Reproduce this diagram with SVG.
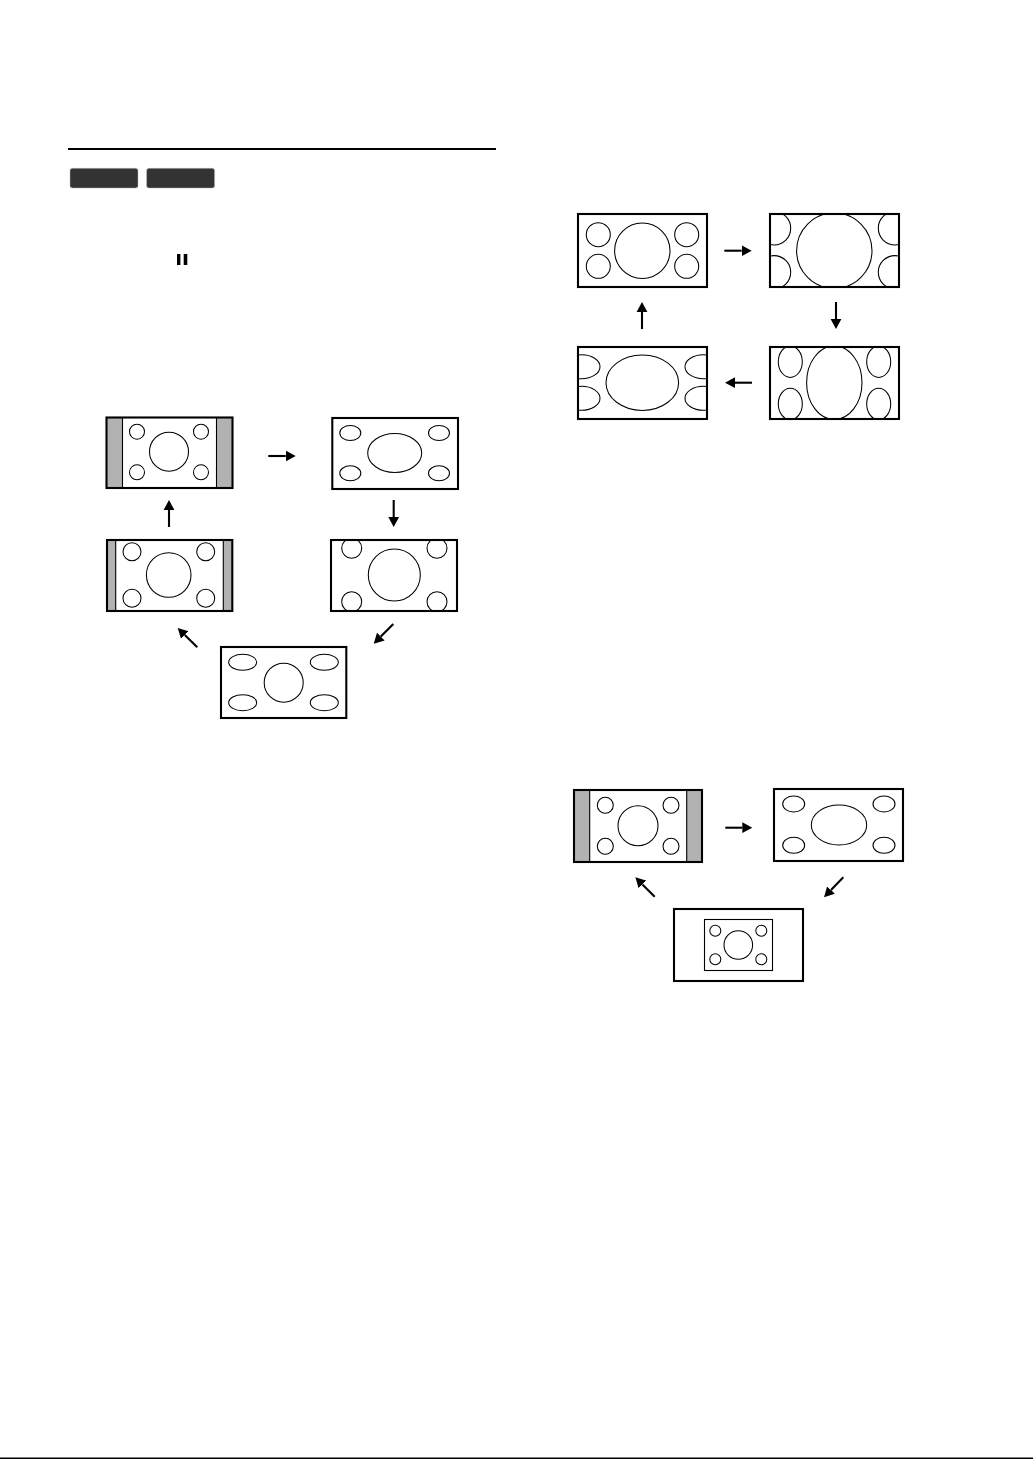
<svg xmlns="http://www.w3.org/2000/svg" width="1033" height="1459" viewBox="0 0 1033 1459">
<style>
.frame{fill:none;stroke:#000;stroke-width:2.1}
.bar{fill:#b2b2b2;stroke:none}
.rule{stroke:#000;stroke-width:1.1}
.s{fill:none;stroke:#000;stroke-width:1.05}
.btn{fill:#333;stroke:#bbb;stroke-width:.5}
.arr{fill:none;stroke:#000;stroke-width:2.1;marker-end:url(#head)}
</style>
<defs>
<marker id="head" markerUnits="userSpaceOnUse" markerWidth="12" markerHeight="12" refX="0" refY="6" orient="auto" viewBox="0 0 12 12"><path d="M0 .6L10 6L0 11.4Z" fill="#000"/></marker>
<clipPath id="cG"><rect x="770" y="214" width="129" height="73"/></clipPath>
<clipPath id="cH"><rect x="770" y="347" width="129" height="72"/></clipPath>
<clipPath id="cI"><rect x="578" y="347" width="129" height="72"/></clipPath>
<clipPath id="cD"><rect x="331" y="540" width="126" height="71"/></clipPath>
</defs>
<rect width="1033" height="1459" fill="#fff"/>
<g id="header">
<rect x="68" y="148" width="428" height="2" fill="#000"/>
<rect class="btn" x="70" y="168.3" width="68" height="19.8" rx="2.5"/>
<rect class="btn" x="146.6" y="168.3" width="68" height="19.8" rx="2.5"/>
<rect x="177" y="254" width="3.4" height="11" fill="#000"/>
<rect x="183.7" y="254" width="3.6" height="11" fill="#000"/>
</g>
<g id="screen-a">
<rect class="bar" x="106.5" y="417.5" width="16" height="70"/><rect class="bar" x="216.5" y="417.5" width="16" height="70"/>
<path class="rule" d="M122.5 417.5V487.5M216.5 417.5V487.5"/>
<circle class="s" cx="169" cy="451.7" r="19.5"/><circle class="s" cx="137" cy="431.7" r="7.5"/><circle class="s" cx="201" cy="431.7" r="7.5"/><circle class="s" cx="137" cy="472.3" r="7.5"/><circle class="s" cx="201" cy="472.3" r="7.5"/>
<rect class="frame" x="106.5" y="417.5" width="126" height="70.5"/>
</g>
<g id="screen-b">
<ellipse class="s" cx="394.7" cy="453" rx="27" ry="19.5"/><ellipse class="s" cx="350.3" cy="433" rx="10.5" ry="7.5"/><ellipse class="s" cx="439" cy="433" rx="10.5" ry="7.5"/><ellipse class="s" cx="350.3" cy="473.3" rx="10.5" ry="7.5"/><ellipse class="s" cx="439" cy="473.3" rx="10.5" ry="7.5"/>
<rect class="frame" x="332.3" y="418" width="125.7" height="71"/>
</g>
<g id="screen-c">
<rect class="bar" x="107" y="540" width="8.7" height="71"/><rect class="bar" x="223.3" y="540" width="9" height="71"/>
<path class="rule" d="M115.7 540V611M223.3 540V611"/>
<circle class="s" cx="168.7" cy="575" r="22.3"/><circle class="s" cx="132" cy="551.7" r="9"/><circle class="s" cx="205.7" cy="551.7" r="9"/><circle class="s" cx="132" cy="598.3" r="9"/><circle class="s" cx="205.7" cy="598.3" r="9"/>
<rect class="frame" x="107" y="540" width="125.3" height="71"/>
</g>
<g id="screen-d">
<g clip-path="url(#cD)"><circle class="s" cx="394.3" cy="575" r="26"/><circle class="s" cx="351.7" cy="548.3" r="10"/><circle class="s" cx="437" cy="548.3" r="10"/><circle class="s" cx="351.7" cy="601.7" r="10"/><circle class="s" cx="437" cy="601.7" r="10"/></g>
<rect class="frame" x="331" y="540" width="126" height="71"/>
</g>
<g id="screen-e">
<circle class="s" cx="283.7" cy="682.7" r="19.5"/><ellipse class="s" cx="242.7" cy="662.3" rx="14" ry="8"/><ellipse class="s" cx="324.3" cy="662.3" rx="14" ry="8"/><ellipse class="s" cx="242.7" cy="702.7" rx="14" ry="8"/><ellipse class="s" cx="324.3" cy="702.7" rx="14" ry="8"/>
<rect class="frame" x="221" y="647" width="125.3" height="71"/>
</g>
<g id="screen-f">
<circle class="s" cx="642.3" cy="250.7" r="27.7"/><circle class="s" cx="598.3" cy="234.7" r="12"/><circle class="s" cx="686.7" cy="234.7" r="12"/><circle class="s" cx="598.3" cy="266.3" r="12"/><circle class="s" cx="686.7" cy="266.3" r="12"/>
<rect class="frame" x="578" y="214" width="129" height="73"/>
</g>
<g id="screen-g">
<g clip-path="url(#cG)"><circle class="s" cx="834.3" cy="250.7" r="37.7"/><circle class="s" cx="774" cy="228.3" r="16.7"/><circle class="s" cx="895" cy="228.3" r="16.7"/><circle class="s" cx="774" cy="272.3" r="16.7"/><circle class="s" cx="895" cy="272.3" r="16.7"/></g>
<rect class="frame" x="770" y="214" width="129" height="73"/>
</g>
<g id="screen-h">
<g clip-path="url(#cH)"><ellipse class="s" cx="834.3" cy="382.7" rx="27.7" ry="36.7"/><ellipse class="s" cx="790.3" cy="361.7" rx="12" ry="15.7"/><ellipse class="s" cx="878.7" cy="361.7" rx="12" ry="15.7"/><ellipse class="s" cx="790.3" cy="404" rx="12" ry="15.7"/><ellipse class="s" cx="878.7" cy="404" rx="12" ry="15.7"/></g>
<rect class="frame" x="770" y="347" width="129" height="72"/>
</g>
<g id="screen-i">
<g clip-path="url(#cI)"><ellipse class="s" cx="642.3" cy="382.7" rx="36.3" ry="27.7"/><ellipse class="s" cx="581.7" cy="366.7" rx="18.3" ry="12"/><ellipse class="s" cx="703.3" cy="366.7" rx="18.3" ry="12"/><ellipse class="s" cx="581.7" cy="398.3" rx="18.3" ry="12"/><ellipse class="s" cx="703.3" cy="398.3" rx="18.3" ry="12"/></g>
<rect class="frame" x="578" y="347" width="129" height="72"/>
</g>
<g id="screen-j">
<rect class="bar" x="574" y="790" width="15.7" height="72"/><rect class="bar" x="686.7" y="790" width="15.3" height="72"/>
<path class="rule" d="M589.7 790V862M686.7 790V862"/>
<circle class="s" cx="638" cy="825.7" r="20"/><circle class="s" cx="605.3" cy="805.3" r="8"/><circle class="s" cx="671" cy="805.3" r="8"/><circle class="s" cx="605.3" cy="846.3" r="8"/><circle class="s" cx="671" cy="846.3" r="8"/>
<rect class="frame" x="574" y="790" width="128" height="72"/>
</g>
<g id="screen-k">
<ellipse class="s" cx="839" cy="825" rx="27.7" ry="20"/><ellipse class="s" cx="793.7" cy="804" rx="11" ry="8"/><ellipse class="s" cx="884" cy="804" rx="11" ry="8"/><ellipse class="s" cx="793.7" cy="845.3" rx="11" ry="8"/><ellipse class="s" cx="884" cy="845.3" rx="11" ry="8"/>
<rect class="frame" x="774" y="789" width="129" height="72"/>
</g>
<g id="screen-l">
<rect class="rule" x="704.5" y="919.5" width="68" height="51" fill="none"/>
<circle class="s" cx="738.3" cy="945" r="14.3"/><circle class="s" cx="715.3" cy="930.7" r="5.5"/><circle class="s" cx="761.3" cy="930.7" r="5.5"/><circle class="s" cx="715.3" cy="959.3" r="5.5"/><circle class="s" cx="761.3" cy="959.3" r="5.5"/>
<rect class="frame" x="674" y="909" width="129" height="72"/>
</g>
<g id="connectors">
<path class="arr" d="M268.3 456H285.7"/>
<path class="arr" d="M393.7 500V517"/>
<path class="arr" d="M393.3 624L380.8 636.6"/>
<path class="arr" d="M197.3 647.3L184.8 635"/>
<path class="arr" d="M169 527V510"/>
<path class="arr" d="M724.3 250.7H741.7"/>
<path class="arr" d="M836 302V319"/>
<path class="arr" d="M752 382.7H735"/>
<path class="arr" d="M642 329V312"/>
<path class="arr" d="M725.3 827.7H742.3"/>
<path class="arr" d="M843.3 877.3L831 890"/>
<path class="arr" d="M654.7 896.7L642.4 884.4"/>
</g>
<rect id="footer" x="0" y="1457.5" width="1033" height="1.5" fill="#000"/>
</svg>
